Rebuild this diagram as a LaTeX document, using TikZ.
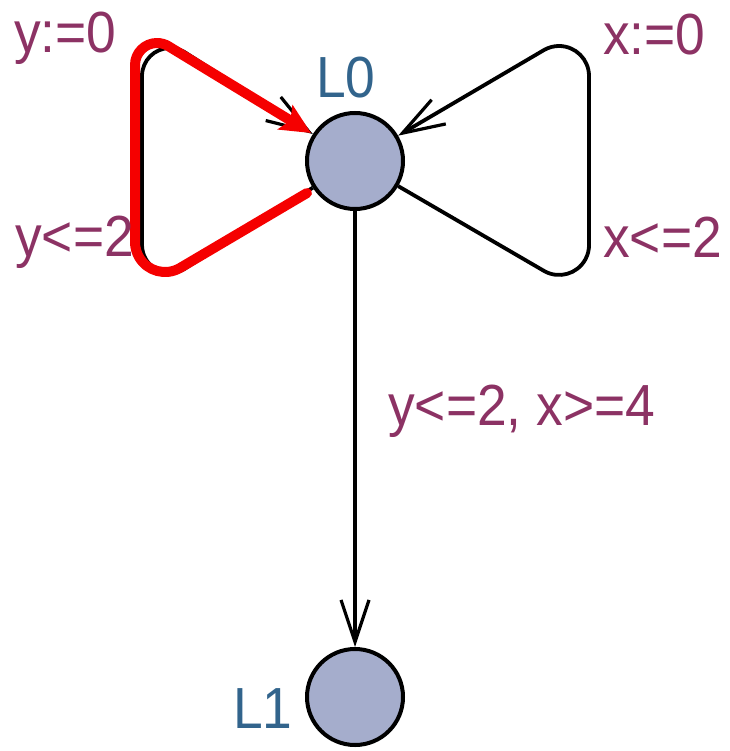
\documentclass[tikz,border=0pt]{standalone}
\usepackage{fontspec}
\setmainfont{Liberation Sans}[FakeStretch=0.92]
\usetikzlibrary{arrows.meta}
\definecolor{locfill}{RGB}{165,173,204}
\definecolor{lblpurple}{RGB}{140,50,100}
\definecolor{lblblue}{RGB}{50,100,140}
\definecolor{hlred}{RGB}{245,0,0}
\tikzset{
  loc/.style={circle, draw=black, line width=4pt, fill=locfill, minimum size=96pt, inner sep=0pt},
  bigtext/.style={inner sep=0pt, anchor=base west, font=\fontsize{58}{58}\selectfont},
  guard/.style={bigtext, text=lblpurple},
  locname/.style={bigtext, text=lblblue},
  edge/.style={line width=3.8pt, draw=black, line join=round, -{Straight Barb[length=42pt,width=28pt,line width=3.2pt]}},
  hilite/.style={line width=10pt, draw=hlred, line cap=round, line join=round, -{Stealth[length=30pt,width=28pt,inset=6pt]}}
}
\begin{document}
\begin{tikzpicture}[x=1pt,y=1pt]
\useasboundingbox (0,0) rectangle (729,-751);
\node[loc] (L0) at (355,-161) {};
\node[loc] (L1) at (355,-697) {};
% left loop (black)
\coordinate (lbt) at (184,-269.2);
\coordinate (ltt) at (184,-51.8);
\draw[edge] (L0) -- (lbt) arc[start angle=300, end angle=180, radius=28]
  -- (142,-76) arc[start angle=180, end angle=60, radius=28] -- (L0);
% right loop
\coordinate (rbt) at (544.5,-271.2);
\coordinate (rtt) at (544.7,-49.6);
\draw[edge] (L0) -- (rbt) arc[start angle=241, end angle=360, radius=30]
  -- (589,-76) arc[start angle=0, end angle=118.5, radius=30] -- (L0);
% vertical edge
\draw[edge] (L0) -- (L1);
% red highlight
\coordinate (hs) at (307,-193);
\coordinate (hbt) at (180,-268);
\coordinate (he) at (311,-133);
\draw[hilite] (hs) -- (hbt) arc[start angle=300, end angle=180, radius=30]
  -- (135,-65) arc[start angle=180, end angle=60, radius=22] -- (he);
% labels
\node[guard] (g1) at (14,-53) {y:=0};
\node[guard] (g2) at (15,-256) {y<=2};
\node[guard] (g3) at (603,-55) {x:=0};
\node[guard] (g4) at (603,-257) {x<=2};
\node[guard] (g5) at (388,-425) {y<=2, x>=4};
\node[locname] (n0) at (316,-98) {L0};
\node[locname] (n1) at (233,-728) {L1};
\end{tikzpicture}
\end{document}
